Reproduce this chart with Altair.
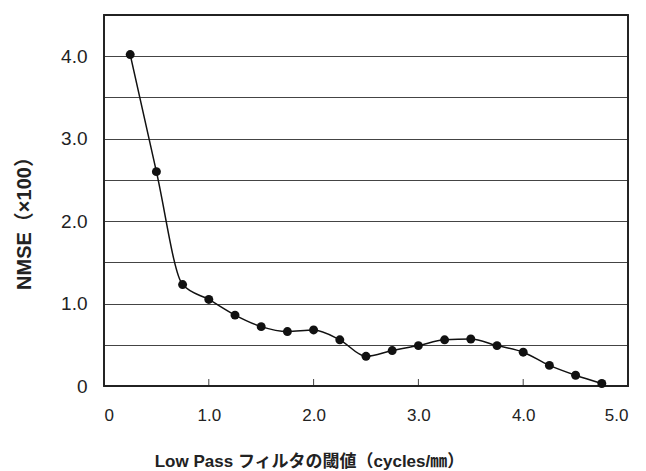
import altair as alt
import pandas as pd

x_vals = [0.25, 0.5, 0.75, 1.0, 1.25, 1.5, 1.75, 2.0, 2.25, 2.5, 2.75, 3.0, 3.25, 3.5, 3.75, 4.0, 4.25, 4.5, 4.75]
y_vals = [4.02, 2.60, 1.23, 1.05, 0.86, 0.72, 0.66, 0.68, 0.56, 0.36, 0.43, 0.49, 0.56, 0.57, 0.49, 0.41, 0.25, 0.13, 0.03]
x_ticks = [0, 1, 2, 3, 4, 5]
inner_ticks = [1, 2, 3, 4]
y_grid = [0, 0.5, 1.0, 1.5, 2.0, 2.5, 3.0, 3.5, 4.0, 4.5]

df = pd.DataFrame({"x": x_vals, "y": y_vals})
tdf = pd.DataFrame({"x": inner_ticks})

FONT = "Liberation Sans"
TFONT = "'Liberation Sans', 'Noto Sans CJK JP'"

xs = alt.Scale(domain=[0, 5], nice=False, zero=False)
ys = alt.Scale(domain=[0, 4.5], nice=False)

x_enc = alt.X("x:Q", scale=xs, axis=alt.Axis(
    values=x_ticks, title="Low Pass フィルタの閾値（cycles/㎜）",
    labelExpr="datum.value == 0 ? '0' : format(datum.value, '.1f')",
    grid=False, domain=False, ticks=False,
    labelFont=FONT, labelFontSize=17, labelColor="#222", labelPadding=21,
    titleFont=TFONT, titleFontSize=17, titleFontWeight="bold", titleColor="#222",
    titleX=205, titleY=80, titleAlign="center", titleBaseline="alphabetic", titleAnchor="start"))
y_enc = alt.Y("y:Q", scale=ys, axis=alt.Axis(
    values=y_grid, title="NMSE（×100）",
    labelExpr="datum.value % 1 == 0 ? (datum.value == 0 ? '0' : format(datum.value, '.1f')) : ''",
    grid=True, gridColor="#444", gridWidth=1, domain=False, ticks=False,
    labelFont=FONT, labelFontSize=19, labelColor="#222", labelPadding=17,
    titleFont=TFONT, titleFontSize=20, titleFontWeight="bold", titleColor="#222",
    titleX=-70, titleY=203, titleAngle=270, titleAlign="center", titleBaseline="bottom", titleAnchor="start"))

base = alt.Chart(df)
line = base.mark_line(color="#111", strokeWidth=1.5, interpolate="monotone").encode(x=x_enc, y=y_enc)
pts = base.mark_circle(color="#111", opacity=1, size=80).encode(x="x:Q", y="y:Q")
ticks = alt.Chart(tdf).mark_rule(color="#444", strokeWidth=1).encode(
    x="x:Q", y=alt.value(371), y2=alt.value(364))
frame = alt.Chart(tdf).mark_rect(fill=None, fillOpacity=0, stroke="#222", strokeWidth=1.3).encode(
    x=alt.value(0), x2=alt.value(524), y=alt.value(0), y2=alt.value(371))

chart = alt.layer(line, ticks, frame, pts).properties(
    width=524, height=371,
    padding={"left": 96, "top": 7, "right": 10, "bottom": 85},
    autosize=alt.AutoSizeParams(type="none"),
).configure_view(stroke=None).configure(background="white")

chart.save("out.html", embed_options={"renderer": "svg", "actions": False})
